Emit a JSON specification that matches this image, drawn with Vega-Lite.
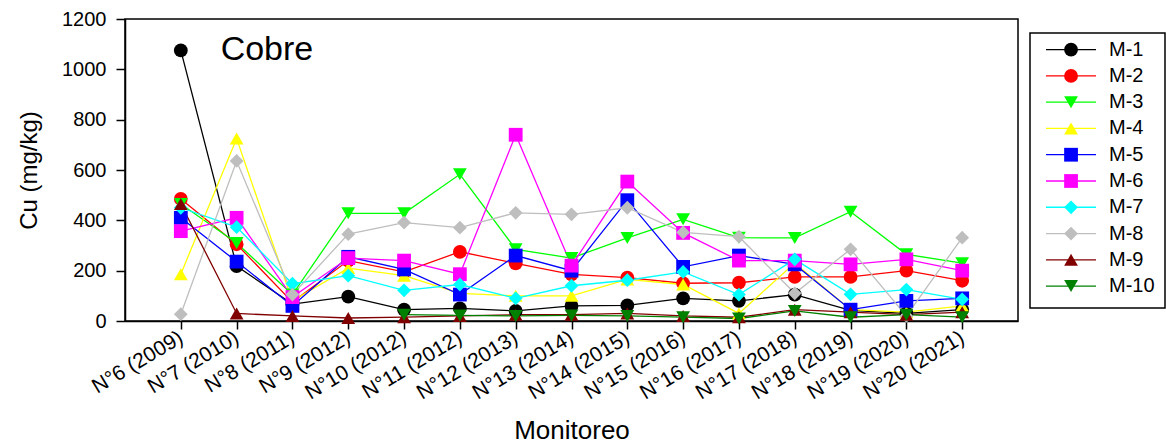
{
  "$schema": "https://vega.github.io/schema/vega-lite/v6.json",
  "padding": {"left": 16, "top": 8, "right": 0, "bottom": 0},
  "background": "white",
  "config": {
    "font": "Liberation Sans",
    "view": {"stroke": "#000", "strokeWidth": 1.5},
    "concat": {"spacing": 10}
  },
  "resolve": {"scale": {"x": "independent", "y": "independent", "color": "independent", "shape": "independent"}},
  "datasets": {
    "cu": [
      {"m":"N°6 (2009)","n":6,"s":"M-1","v":1075},{"m":"N°7 (2010)","n":7,"s":"M-1","v":218},{"m":"N°8 (2011)","n":8,"s":"M-1","v":67},{"m":"N°9 (2012)","n":9,"s":"M-1","v":97},{"m":"N°10 (2012)","n":10,"s":"M-1","v":45},{"m":"N°11 (2012)","n":11,"s":"M-1","v":50},{"m":"N°12 (2013)","n":12,"s":"M-1","v":40},{"m":"N°13 (2014)","n":13,"s":"M-1","v":60},{"m":"N°14 (2015)","n":14,"s":"M-1","v":62},{"m":"N°15 (2016)","n":15,"s":"M-1","v":90},{"m":"N°16 (2017)","n":16,"s":"M-1","v":80},{"m":"N°17 (2018)","n":17,"s":"M-1","v":105},{"m":"N°18 (2019)","n":18,"s":"M-1","v":42},{"m":"N°19 (2020)","n":19,"s":"M-1","v":30},{"m":"N°20 (2021)","n":20,"s":"M-1","v":45},
      {"m":"N°6 (2009)","n":6,"s":"M-2","v":485},{"m":"N°7 (2010)","n":7,"s":"M-2","v":305},{"m":"N°8 (2011)","n":8,"s":"M-2","v":75},{"m":"N°9 (2012)","n":9,"s":"M-2","v":240},{"m":"N°10 (2012)","n":10,"s":"M-2","v":195},{"m":"N°11 (2012)","n":11,"s":"M-2","v":275},{"m":"N°12 (2013)","n":12,"s":"M-2","v":229},{"m":"N°13 (2014)","n":13,"s":"M-2","v":185},{"m":"N°14 (2015)","n":14,"s":"M-2","v":172},{"m":"N°15 (2016)","n":15,"s":"M-2","v":150},{"m":"N°16 (2017)","n":16,"s":"M-2","v":152},{"m":"N°17 (2018)","n":17,"s":"M-2","v":175},{"m":"N°18 (2019)","n":18,"s":"M-2","v":175},{"m":"N°19 (2020)","n":19,"s":"M-2","v":200},{"m":"N°20 (2021)","n":20,"s":"M-2","v":160},
      {"m":"N°6 (2009)","n":6,"s":"M-3","v":465},{"m":"N°7 (2010)","n":7,"s":"M-3","v":310},{"m":"N°8 (2011)","n":8,"s":"M-3","v":105},{"m":"N°9 (2012)","n":9,"s":"M-3","v":428},{"m":"N°10 (2012)","n":10,"s":"M-3","v":428},{"m":"N°11 (2012)","n":11,"s":"M-3","v":583},{"m":"N°12 (2013)","n":12,"s":"M-3","v":285},{"m":"N°13 (2014)","n":13,"s":"M-3","v":250},{"m":"N°14 (2015)","n":14,"s":"M-3","v":330},{"m":"N°15 (2016)","n":15,"s":"M-3","v":404},{"m":"N°16 (2017)","n":16,"s":"M-3","v":331},{"m":"N°17 (2018)","n":17,"s":"M-3","v":330},{"m":"N°18 (2019)","n":18,"s":"M-3","v":434},{"m":"N°19 (2020)","n":19,"s":"M-3","v":265},{"m":"N°20 (2021)","n":20,"s":"M-3","v":230},
      {"m":"N°6 (2009)","n":6,"s":"M-4","v":186},{"m":"N°7 (2010)","n":7,"s":"M-4","v":725},{"m":"N°8 (2011)","n":8,"s":"M-4","v":80},{"m":"N°9 (2012)","n":9,"s":"M-4","v":210},{"m":"N°10 (2012)","n":10,"s":"M-4","v":180},{"m":"N°11 (2012)","n":11,"s":"M-4","v":110},{"m":"N°12 (2013)","n":12,"s":"M-4","v":100},{"m":"N°13 (2014)","n":13,"s":"M-4","v":100},{"m":"N°14 (2015)","n":14,"s":"M-4","v":165},{"m":"N°15 (2016)","n":15,"s":"M-4","v":145},{"m":"N°16 (2017)","n":16,"s":"M-4","v":30},{"m":"N°17 (2018)","n":17,"s":"M-4","v":230},{"m":"N°18 (2019)","n":18,"s":"M-4","v":45},{"m":"N°19 (2020)","n":19,"s":"M-4","v":35},{"m":"N°20 (2021)","n":20,"s":"M-4","v":60},
      {"m":"N°6 (2009)","n":6,"s":"M-5","v":410},{"m":"N°7 (2010)","n":7,"s":"M-5","v":236},{"m":"N°8 (2011)","n":8,"s":"M-5","v":60},{"m":"N°9 (2012)","n":9,"s":"M-5","v":255},{"m":"N°10 (2012)","n":10,"s":"M-5","v":205},{"m":"N°11 (2012)","n":11,"s":"M-5","v":105},{"m":"N°12 (2013)","n":12,"s":"M-5","v":260},{"m":"N°13 (2014)","n":13,"s":"M-5","v":200},{"m":"N°14 (2015)","n":14,"s":"M-5","v":480},{"m":"N°15 (2016)","n":15,"s":"M-5","v":215},{"m":"N°16 (2017)","n":16,"s":"M-5","v":260},{"m":"N°17 (2018)","n":17,"s":"M-5","v":225},{"m":"N°18 (2019)","n":18,"s":"M-5","v":45},{"m":"N°19 (2020)","n":19,"s":"M-5","v":80},{"m":"N°20 (2021)","n":20,"s":"M-5","v":90},
      {"m":"N°6 (2009)","n":6,"s":"M-6","v":357},{"m":"N°7 (2010)","n":7,"s":"M-6","v":410},{"m":"N°8 (2011)","n":8,"s":"M-6","v":95},{"m":"N°9 (2012)","n":9,"s":"M-6","v":250},{"m":"N°10 (2012)","n":10,"s":"M-6","v":240},{"m":"N°11 (2012)","n":11,"s":"M-6","v":186},{"m":"N°12 (2013)","n":12,"s":"M-6","v":740},{"m":"N°13 (2014)","n":13,"s":"M-6","v":220},{"m":"N°14 (2015)","n":14,"s":"M-6","v":554},{"m":"N°15 (2016)","n":15,"s":"M-6","v":350},{"m":"N°16 (2017)","n":16,"s":"M-6","v":240},{"m":"N°17 (2018)","n":17,"s":"M-6","v":240},{"m":"N°18 (2019)","n":18,"s":"M-6","v":225},{"m":"N°19 (2020)","n":19,"s":"M-6","v":245},{"m":"N°20 (2021)","n":20,"s":"M-6","v":200},
      {"m":"N°6 (2009)","n":6,"s":"M-7","v":450},{"m":"N°7 (2010)","n":7,"s":"M-7","v":373},{"m":"N°8 (2011)","n":8,"s":"M-7","v":148},{"m":"N°9 (2012)","n":9,"s":"M-7","v":180},{"m":"N°10 (2012)","n":10,"s":"M-7","v":122},{"m":"N°11 (2012)","n":11,"s":"M-7","v":145},{"m":"N°12 (2013)","n":12,"s":"M-7","v":90},{"m":"N°13 (2014)","n":13,"s":"M-7","v":140},{"m":"N°14 (2015)","n":14,"s":"M-7","v":162},{"m":"N°15 (2016)","n":15,"s":"M-7","v":195},{"m":"N°16 (2017)","n":16,"s":"M-7","v":105},{"m":"N°17 (2018)","n":17,"s":"M-7","v":245},{"m":"N°18 (2019)","n":18,"s":"M-7","v":106},{"m":"N°19 (2020)","n":19,"s":"M-7","v":125},{"m":"N°20 (2021)","n":20,"s":"M-7","v":86},
      {"m":"N°6 (2009)","n":6,"s":"M-8","v":27},{"m":"N°7 (2010)","n":7,"s":"M-8","v":636},{"m":"N°8 (2011)","n":8,"s":"M-8","v":105},{"m":"N°9 (2012)","n":9,"s":"M-8","v":345},{"m":"N°10 (2012)","n":10,"s":"M-8","v":391},{"m":"N°11 (2012)","n":11,"s":"M-8","v":371},{"m":"N°12 (2013)","n":12,"s":"M-8","v":430},{"m":"N°13 (2014)","n":13,"s":"M-8","v":424},{"m":"N°14 (2015)","n":14,"s":"M-8","v":450},{"m":"N°15 (2016)","n":15,"s":"M-8","v":352},{"m":"N°16 (2017)","n":16,"s":"M-8","v":335},{"m":"N°17 (2018)","n":17,"s":"M-8","v":110},{"m":"N°18 (2019)","n":18,"s":"M-8","v":285},{"m":"N°19 (2020)","n":19,"s":"M-8","v":20},{"m":"N°20 (2021)","n":20,"s":"M-8","v":331},
      {"m":"N°6 (2009)","n":6,"s":"M-9","v":465},{"m":"N°7 (2010)","n":7,"s":"M-9","v":30},{"m":"N°8 (2011)","n":8,"s":"M-9","v":20},{"m":"N°9 (2012)","n":9,"s":"M-9","v":12},{"m":"N°10 (2012)","n":10,"s":"M-9","v":15},{"m":"N°11 (2012)","n":11,"s":"M-9","v":20},{"m":"N°12 (2013)","n":12,"s":"M-9","v":25},{"m":"N°13 (2014)","n":13,"s":"M-9","v":25},{"m":"N°14 (2015)","n":14,"s":"M-9","v":30},{"m":"N°15 (2016)","n":15,"s":"M-9","v":20},{"m":"N°16 (2017)","n":16,"s":"M-9","v":15},{"m":"N°17 (2018)","n":17,"s":"M-9","v":45},{"m":"N°18 (2019)","n":18,"s":"M-9","v":35},{"m":"N°19 (2020)","n":19,"s":"M-9","v":25},{"m":"N°20 (2021)","n":20,"s":"M-9","v":35},
      {"m":"N°10 (2012)","n":10,"s":"M-10","v":25},{"m":"N°11 (2012)","n":11,"s":"M-10","v":22},{"m":"N°12 (2013)","n":12,"s":"M-10","v":20},{"m":"N°13 (2014)","n":13,"s":"M-10","v":22},{"m":"N°14 (2015)","n":14,"s":"M-10","v":20},{"m":"N°15 (2016)","n":15,"s":"M-10","v":15},{"m":"N°16 (2017)","n":16,"s":"M-10","v":10},{"m":"N°17 (2018)","n":17,"s":"M-10","v":40},{"m":"N°18 (2019)","n":18,"s":"M-10","v":15},{"m":"N°19 (2020)","n":19,"s":"M-10","v":25},{"m":"N°20 (2021)","n":20,"s":"M-10","v":15}
    ],
    "leg": [{"s":"M-1"},{"s":"M-2"},{"s":"M-3"},{"s":"M-4"},{"s":"M-5"},{"s":"M-6"},{"s":"M-7"},{"s":"M-8"},{"s":"M-9"},{"s":"M-10"}],
    "box": [{"x0": 0, "x1": 1, "y0": 0, "y1": 0.9516}]
  },
  "hconcat": [
    {
      "width": 893,
      "height": 302,
      "layer": [
        {
          "data": {"name": "cu"},
          "mark": {"type": "line", "strokeWidth": 1.3},
          "encoding": {
            "x": {"field": "m", "type": "ordinal",
              "scale": {"type": "point", "padding": 1, "domain": ["N°6 (2009)","N°7 (2010)","N°8 (2011)","N°9 (2012)","N°10 (2012)","N°11 (2012)","N°12 (2013)","N°13 (2014)","N°14 (2015)","N°15 (2016)","N°16 (2017)","N°17 (2018)","N°18 (2019)","N°19 (2020)","N°20 (2021)"]},
              "axis": {"title": "Monitoreo", "titleFontSize": 26, "titleFontWeight": "normal", "titleColor": "#000", "titlePadding": 14,
                "labelFontSize": 21, "labelColor": "#000", "labelAngle": -31, "labelAlign": "right", "labelBaseline": "middle", "labelPadding": 7,
                "tickSize": 8, "tickWidth": 1.5, "tickColor": "#000", "domainColor": "#000", "domainWidth": 1.5, "grid": false}},
            "y": {"field": "v", "type": "quantitative",
              "scale": {"domain": [0, 1200], "nice": false},
              "axis": {"title": "Cu (mg/kg)", "titleFontSize": 24, "titleFontWeight": "normal", "titleColor": "#000", "titlePadding": 20,
                "values": [0, 200, 400, 600, 800, 1000, 1200], "format": "d",
                "labelFontSize": 20, "labelColor": "#000", "labelPadding": 10,
                "tickSize": 9, "tickWidth": 1.5, "tickColor": "#000", "domainColor": "#000", "domainWidth": 1.5, "grid": false}},
            "color": {"field": "s", "type": "nominal",
              "scale": {"domain": ["M-1","M-2","M-3","M-4","M-5","M-6","M-7","M-8","M-9","M-10"],
                "range": ["#000000","#ff0000","#00ff00","#ffff00","#0000ff","#ff00ff","#00ffff","#bebebe","#800000","#008000"]},
              "legend": null},
            "order": {"field": "n", "type": "quantitative"}
          }
        },
        {
          "data": {"name": "cu"},
          "mark": {"type": "point", "filled": true, "size": 190, "opacity": 1},
          "encoding": {
            "x": {"field": "m", "type": "ordinal"},
            "y": {"field": "v", "type": "quantitative"},
            "color": {"field": "s", "type": "nominal", "legend": null},
            "shape": {"field": "s", "type": "nominal",
              "scale": {"domain": ["M-1","M-2","M-3","M-4","M-5","M-6","M-7","M-8","M-9","M-10"],
                "range": ["circle","circle","triangle-down","triangle-up","square","square","diamond","diamond","triangle-up","triangle-down"]},
              "legend": null}
          }
        },
        {
          "data": {"values": [{"t": "Cobre", "m": "N°7 (2010)", "v": 1075}]},
          "mark": {"type": "text", "fontSize": 34, "align": "left", "baseline": "middle", "dx": -16, "color": "#000"},
          "encoding": {
            "x": {"field": "m", "type": "ordinal"},
            "y": {"field": "v", "type": "quantitative"},
            "text": {"field": "t"}
          }
        }
      ]
    },
    {
      "width": 135,
      "height": 289,
      "view": {"stroke": null},
      "resolve": {"scale": {"y": "independent"}},
      "layer": [
        {
          "data": {"name": "box"},
          "mark": {"type": "rect", "fill": null, "stroke": "#000", "strokeWidth": 1.5},
          "encoding": {
            "x": {"field": "x0", "type": "quantitative", "scale": {"domain": [0, 1]}, "axis": null},
            "x2": {"field": "x1"},
            "y": {"field": "y0", "type": "quantitative", "scale": {"domain": [0, 1]}, "axis": null},
            "y2": {"field": "y1"}
          }
        },
        {
          "data": {"name": "leg"},
          "layer": [
            {
              "mark": {"type": "rule", "strokeWidth": 1.3},
              "encoding": {
                "x": {"datum": 0.1185, "type": "quantitative"},
                "x2": {"datum": 0.489},
                "y": {"field": "s", "type": "nominal", "scale": {"type": "point", "padding": 1.493, "align": 0.583, "domain": ["M-1","M-2","M-3","M-4","M-5","M-6","M-7","M-8","M-9","M-10"]}, "axis": null},
                "color": {"field": "s", "type": "nominal",
                  "scale": {"domain": ["M-1","M-2","M-3","M-4","M-5","M-6","M-7","M-8","M-9","M-10"],
                    "range": ["#000000","#ff0000","#00ff00","#ffff00","#0000ff","#ff00ff","#00ffff","#bebebe","#800000","#008000"]},
                  "legend": null}
              }
            },
            {
              "mark": {"type": "point", "filled": true, "size": 190, "opacity": 1},
              "encoding": {
                "x": {"datum": 0.304, "type": "quantitative"},
                "y": {"field": "s", "type": "nominal"},
                "color": {"field": "s", "type": "nominal", "legend": null},
                "shape": {"field": "s", "type": "nominal",
                  "scale": {"domain": ["M-1","M-2","M-3","M-4","M-5","M-6","M-7","M-8","M-9","M-10"],
                    "range": ["circle","circle","triangle-down","triangle-up","square","square","diamond","diamond","triangle-up","triangle-down"]},
                  "legend": null}
              }
            },
            {
              "mark": {"type": "text", "fontSize": 20, "align": "left", "baseline": "middle", "color": "#000"},
              "encoding": {
                "x": {"datum": 0.585, "type": "quantitative"},
                "y": {"field": "s", "type": "nominal"},
                "text": {"field": "s"}
              }
            }
          ]
        }
      ]
    }
  ]
}
